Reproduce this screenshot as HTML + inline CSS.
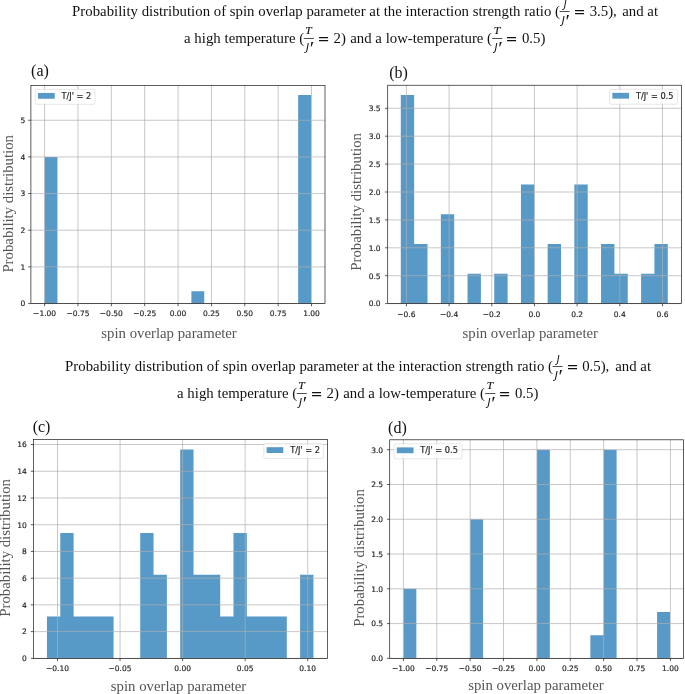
<!DOCTYPE html>
<html lang="en">
<head>
<meta charset="utf-8">
<title>Probability distribution of spin overlap parameter</title>
<style>
html,body{margin:0;padding:0;background:#fff;}
body{width:685px;height:694px;overflow:hidden;}
svg{display:block;}
.tk{font-family:"DejaVu Sans","Liberation Sans",sans-serif;font-size:7.5px;fill:#262626;stroke:#262626;stroke-width:0.18px;}
.lg{font-family:"DejaVu Sans","Liberation Sans",sans-serif;font-size:8.2px;fill:#262626;stroke:#262626;stroke-width:0.2px;}
.al{font-family:"Liberation Serif","Times New Roman",serif;font-size:14.8px;fill:#555555;}
.tg{font-family:"Liberation Serif","Times New Roman",serif;font-size:16px;fill:#111;}
.hd{font-family:"Liberation Serif","Times New Roman",serif;font-size:14.8px;fill:#111;white-space:pre;}
.fr{font-family:"Liberation Serif","Times New Roman",serif;font-style:italic;fill:#111;stroke:#111;stroke-width:0.15px;}
.fp{font-family:"Liberation Serif","Times New Roman",serif;font-style:italic;fill:#111;}
.fj{font-family:"DejaVu Sans","Liberation Sans",sans-serif;font-style:oblique;fill:#111;}
.fe{font-family:"DejaVu Sans","Liberation Sans",sans-serif;fill:#111;}
</style>
</head>
<body>
<svg width="685" height="694" viewBox="0 0 685 694">
<rect width="685" height="694" fill="#fff"/>
<text class="hd" x="72.1" y="15.75" textLength="487.85">Probability distribution of spin overlap parameter at the interaction strength ratio (</text>
<rect x="559.6" y="11.15" width="10" height="0.8" fill="#222"/><text class="fj" font-size="9.9" transform="translate(563.72 7.87) scale(1.0 1.0)">J</text><text class="fj" font-size="10.7" transform="translate(561.86 23.91) scale(1.0 1.0)">J</text><text class="fp" font-size="18" transform="translate(564.21 28.11) scale(1.15 1.0)">′</text>
<text class="fe" font-size="14.45" transform="translate(573.47 16.98) scale(1.0 0.93)">=</text>
<text class="hd" x="589.7" y="15.75">3.5),</text>
<text class="hd" x="622.3" y="15.75">and at</text>
<text class="hd" x="184" y="42.65" textLength="120.25">a high temperature (</text>
<rect x="303.8" y="38.05" width="10" height="0.8" fill="#222"/><text class="fr" font-size="11.15" transform="translate(305.14 34.35) scale(1.04 1.0)">T</text><text class="fj" font-size="10.7" transform="translate(306.06 50.81) scale(1.0 1.0)">J</text><text class="fp" font-size="18" transform="translate(308.41 54.51) scale(1.15 1.0)">′</text>
<text class="fe" font-size="14.45" transform="translate(317.57 44.4) scale(1.0 0.93)">=</text>
<text class="hd" x="333.5" y="42.65">2)</text>
<text class="hd" x="350.3" y="42.65">and a low-temperature (</text>
<rect x="492.3" y="38.05" width="10" height="0.8" fill="#222"/><text class="fr" font-size="11.15" transform="translate(493.64 34.35) scale(1.04 1.0)">T</text><text class="fj" font-size="10.7" transform="translate(494.56 50.81) scale(1.0 1.0)">J</text><text class="fp" font-size="18" transform="translate(496.91 54.51) scale(1.15 1.0)">′</text>
<text class="fe" font-size="14.45" transform="translate(505.57 44.4) scale(1.0 0.93)">=</text>
<text class="hd" x="521.9" y="42.65">0.5)</text>
<text class="hd" x="65.1" y="370.75" textLength="487.85">Probability distribution of spin overlap parameter at the interaction strength ratio (</text>
<rect x="552.6" y="366.15" width="10" height="0.8" fill="#222"/><text class="fj" font-size="9.9" transform="translate(556.72 362.87) scale(1.0 1.0)">J</text><text class="fj" font-size="10.7" transform="translate(554.86 378.91) scale(1.0 1.0)">J</text><text class="fp" font-size="18" transform="translate(557.21 383.11) scale(1.15 1.0)">′</text>
<text class="fe" font-size="14.45" transform="translate(566.47 371.98) scale(1.0 0.93)">=</text>
<text class="hd" x="582.2" y="370.75">0.5),</text>
<text class="hd" x="615.3" y="370.75">and at</text>
<text class="hd" x="177" y="397.65" textLength="120.25">a high temperature (</text>
<rect x="296.8" y="393.05" width="10" height="0.8" fill="#222"/><text class="fr" font-size="11.15" transform="translate(298.14 389.35) scale(1.04 1.0)">T</text><text class="fj" font-size="10.7" transform="translate(299.06 405.81) scale(1.0 1.0)">J</text><text class="fp" font-size="18" transform="translate(301.41 409.51) scale(1.15 1.0)">′</text>
<text class="fe" font-size="14.45" transform="translate(310.57 399.4) scale(1.0 0.93)">=</text>
<text class="hd" x="326.5" y="397.65">2)</text>
<text class="hd" x="343.3" y="397.65">and a low-temperature (</text>
<rect x="485.3" y="393.05" width="10" height="0.8" fill="#222"/><text class="fr" font-size="11.15" transform="translate(486.64 389.35) scale(1.04 1.0)">T</text><text class="fj" font-size="10.7" transform="translate(487.56 405.81) scale(1.0 1.0)">J</text><text class="fp" font-size="18" transform="translate(489.91 409.51) scale(1.15 1.0)">′</text>
<text class="fe" font-size="14.45" transform="translate(498.57 399.4) scale(1.0 0.93)">=</text>
<text class="hd" x="514.9" y="397.65">0.5)</text>
<rect x="30.9" y="85.35" width="294.1" height="218.2" fill="#fff"/>
<path d="M44.6 303.55V156.91H57.45V303.55ZM191.4 303.55V291.33H204.24V303.55ZM298.16 303.55V94.95H311V303.55Z" fill="#5799c7"/>
<path d="M44.6 85.35V303.55M77.96 85.35V303.55M111.33 85.35V303.55M144.69 85.35V303.55M178.05 85.35V303.55M211.41 85.35V303.55M244.78 85.35V303.55M278.14 85.35V303.55M311.5 85.35V303.55M30.9 303.55H325M30.9 266.89H325M30.9 230.23H325M30.9 193.57H325M30.9 156.91H325M30.9 120.25H325" stroke="#b0b0b0" stroke-width="0.7" fill="none"/>
<path d="M44.6 303.55v2.7M77.96 303.55v2.7M111.33 303.55v2.7M144.69 303.55v2.7M178.05 303.55v2.7M211.41 303.55v2.7M244.78 303.55v2.7M278.14 303.55v2.7M311.5 303.55v2.7M30.9 303.55h-2.7M30.9 266.89h-2.7M30.9 230.23h-2.7M30.9 193.57h-2.7M30.9 156.91h-2.7M30.9 120.25h-2.7" stroke="#1a1a1a" stroke-width="0.7" fill="none"/>
<rect x="30.9" y="85.35" width="294.1" height="218.2" fill="none" stroke="#1a1a1a" stroke-width="0.7"/>
<g class="tk" text-anchor="middle">
<text x="44.6" y="316.45">−1.00</text>
<text x="77.96" y="316.45">−0.75</text>
<text x="111.33" y="316.45">−0.50</text>
<text x="144.69" y="316.45">−0.25</text>
<text x="178.05" y="316.45">0.00</text>
<text x="211.41" y="316.45">0.25</text>
<text x="244.78" y="316.45">0.50</text>
<text x="278.14" y="316.45">0.75</text>
<text x="311.5" y="316.45">1.00</text>
</g>
<g class="tk" text-anchor="end">
<text x="25.3" y="306.4">0</text>
<text x="25.3" y="269.74">1</text>
<text x="25.3" y="233.08">2</text>
<text x="25.3" y="196.42">3</text>
<text x="25.3" y="159.76">4</text>
<text x="25.3" y="123.1">5</text>
</g>
<rect x="35.25" y="89.35" width="59.75" height="15" rx="1.6" fill="#fff" fill-opacity="0.8" stroke="#ccc" stroke-opacity="0.8" stroke-width="0.6"/>
<rect x="38" y="92.95" width="16.7" height="5.8" fill="#5799c7"/>
<text class="lg" x="61.55" y="98.75">T/J' = 2</text>
<text class="al" text-anchor="middle" transform="translate(169.05 338.2) scale(1 1.045)">spin overlap parameter</text>
<text class="al" transform="translate(13.1 272.6) rotate(-90) scale(1 1.045)">Probability distribution</text>
<text class="tg" x="31.1" y="76">(a)</text>
<rect x="387.7" y="85.25" width="293.9" height="218.35" fill="#fff"/>
<path d="M400.8 303.6V94.91H414.15V244.08H427.5V303.6ZM440.85 303.6V214.32H454.2V303.6ZM467.55 303.6V273.84H480.9V303.6ZM494.25 303.6V273.84H507.6V303.6ZM520.95 303.6V184.56H534.3V303.6ZM547.65 303.6V244.08H561V303.6ZM574.35 303.6V184.56H587.7V303.6ZM601.05 303.6V244.08H614.4V273.84H627.75V303.6ZM641.1 303.6V273.84H654.45V244.08H667.8V303.6Z" fill="#5799c7"/>
<path d="M406.41 85.25V303.6M449.09 85.25V303.6M491.77 85.25V303.6M534.45 85.25V303.6M577.13 85.25V303.6M619.81 85.25V303.6M662.49 85.25V303.6M387.7 303.6H681.6M387.7 275.7H681.6M387.7 247.8H681.6M387.7 219.9H681.6M387.7 192H681.6M387.7 164.1H681.6M387.7 136.2H681.6M387.7 108.3H681.6" stroke="#b0b0b0" stroke-width="0.7" fill="none"/>
<path d="M406.41 303.6v2.7M449.09 303.6v2.7M491.77 303.6v2.7M534.45 303.6v2.7M577.13 303.6v2.7M619.81 303.6v2.7M662.49 303.6v2.7M387.7 303.6h-2.7M387.7 275.7h-2.7M387.7 247.8h-2.7M387.7 219.9h-2.7M387.7 192h-2.7M387.7 164.1h-2.7M387.7 136.2h-2.7M387.7 108.3h-2.7" stroke="#1a1a1a" stroke-width="0.7" fill="none"/>
<rect x="387.7" y="85.25" width="293.9" height="218.35" fill="none" stroke="#1a1a1a" stroke-width="0.7"/>
<g class="tk" text-anchor="middle">
<text x="406.41" y="316.5">−0.6</text>
<text x="449.09" y="316.5">−0.4</text>
<text x="491.77" y="316.5">−0.2</text>
<text x="534.45" y="316.5">0.0</text>
<text x="577.13" y="316.5">0.2</text>
<text x="619.81" y="316.5">0.4</text>
<text x="662.49" y="316.5">0.6</text>
</g>
<g class="tk" text-anchor="end">
<text x="380.6" y="306.45">0.0</text>
<text x="380.6" y="278.55">0.5</text>
<text x="380.6" y="250.65">1.0</text>
<text x="380.6" y="222.75">1.5</text>
<text x="380.6" y="194.85">2.0</text>
<text x="380.6" y="166.95">2.5</text>
<text x="380.6" y="139.05">3.0</text>
<text x="380.6" y="111.15">3.5</text>
</g>
<rect x="609.6" y="89.25" width="68" height="15" rx="1.6" fill="#fff" fill-opacity="0.8" stroke="#ccc" stroke-opacity="0.8" stroke-width="0.6"/>
<rect x="612.35" y="92.85" width="16.7" height="5.8" fill="#5799c7"/>
<text class="lg" x="635.9" y="98.65">T/J' = 0.5</text>
<text class="al" text-anchor="middle" transform="translate(530.25 338) scale(1 1.045)">spin overlap parameter</text>
<text class="al" transform="translate(360.6 270.7) rotate(-90) scale(1 1.045)">Probability distribution</text>
<text class="tg" x="389.2" y="78">(b)</text>
<rect x="33.5" y="439.6" width="294.1" height="218.75" fill="#fff"/>
<path d="M46.95 658.35V616.58H60.28V533.05H73.6V616.58H86.92V616.58H100.25V616.58H113.58V658.35ZM140.22 658.35V533.05H153.55V574.82H166.88V658.35ZM180.2 658.35V449.52H193.52V574.82H206.85V574.82H220.18V616.58H233.5V533.05H246.82V616.58H260.15V616.58H273.47V616.58H286.8V658.35ZM300.12 658.35V574.82H313.45V658.35Z" fill="#5799c7"/>
<path d="M57.5 439.6V658.35M120.05 439.6V658.35M182.6 439.6V658.35M245.15 439.6V658.35M307.7 439.6V658.35M33.5 658.35H327.6M33.5 631.62H327.6M33.5 604.89H327.6M33.5 578.16H327.6M33.5 551.43H327.6M33.5 524.7H327.6M33.5 497.97H327.6M33.5 471.24H327.6M33.5 444.51H327.6" stroke="#b0b0b0" stroke-width="0.7" fill="none"/>
<path d="M57.5 658.35v2.7M120.05 658.35v2.7M182.6 658.35v2.7M245.15 658.35v2.7M307.7 658.35v2.7M33.5 658.35h-2.7M33.5 631.62h-2.7M33.5 604.89h-2.7M33.5 578.16h-2.7M33.5 551.43h-2.7M33.5 524.7h-2.7M33.5 497.97h-2.7M33.5 471.24h-2.7M33.5 444.51h-2.7" stroke="#1a1a1a" stroke-width="0.7" fill="none"/>
<rect x="33.5" y="439.6" width="294.1" height="218.75" fill="none" stroke="#1a1a1a" stroke-width="0.7"/>
<g class="tk" text-anchor="middle">
<text x="57.5" y="671.25">−0.10</text>
<text x="120.05" y="671.25">−0.05</text>
<text x="182.6" y="671.25">0.00</text>
<text x="245.15" y="671.25">0.05</text>
<text x="307.7" y="671.25">0.10</text>
</g>
<g class="tk" text-anchor="end">
<text x="26.9" y="661.2">0</text>
<text x="26.9" y="634.47">2</text>
<text x="26.9" y="607.74">4</text>
<text x="26.9" y="581.01">6</text>
<text x="26.9" y="554.28">8</text>
<text x="26.9" y="527.55">10</text>
<text x="26.9" y="500.82">12</text>
<text x="26.9" y="474.09">14</text>
<text x="26.9" y="447.36">16</text>
</g>
<rect x="263.85" y="443.6" width="59.75" height="15" rx="1.6" fill="#fff" fill-opacity="0.8" stroke="#ccc" stroke-opacity="0.8" stroke-width="0.6"/>
<rect x="266.6" y="447.2" width="16.7" height="5.8" fill="#5799c7"/>
<text class="lg" x="290.15" y="453">T/J' = 2</text>
<text class="al" text-anchor="middle" transform="translate(178.55 690.5) scale(1 1.045)">spin overlap parameter</text>
<text class="al" transform="translate(10.4 616.7) rotate(-90) scale(1 1.045)">Probability distribution</text>
<text class="tg" x="32.7" y="432.3">(c)</text>
<rect x="389.7" y="439.8" width="293.9" height="218.55" fill="#fff"/>
<path d="M403.45 658.35V588.8H416.35V658.35ZM470.2 658.35V519.25H483.1V658.35ZM536.95 658.35V449.7H549.85V658.35ZM590.35 658.35V635.17H603.7V449.7H616.6V658.35ZM657.1 658.35V611.98H670V658.35Z" fill="#5799c7"/>
<path d="M403.4 439.8V658.35M436.77 439.8V658.35M470.15 439.8V658.35M503.52 439.8V658.35M536.9 439.8V658.35M570.27 439.8V658.35M603.65 439.8V658.35M637.02 439.8V658.35M670.4 439.8V658.35M389.7 658.35H683.6M389.7 623.58H683.6M389.7 588.8H683.6M389.7 554.03H683.6M389.7 519.25H683.6M389.7 484.48H683.6M389.7 449.7H683.6" stroke="#b0b0b0" stroke-width="0.7" fill="none"/>
<path d="M403.4 658.35v2.7M436.77 658.35v2.7M470.15 658.35v2.7M503.52 658.35v2.7M536.9 658.35v2.7M570.27 658.35v2.7M603.65 658.35v2.7M637.02 658.35v2.7M670.4 658.35v2.7M389.7 658.35h-2.7M389.7 623.58h-2.7M389.7 588.8h-2.7M389.7 554.03h-2.7M389.7 519.25h-2.7M389.7 484.48h-2.7M389.7 449.7h-2.7" stroke="#1a1a1a" stroke-width="0.7" fill="none"/>
<rect x="389.7" y="439.8" width="293.9" height="218.55" fill="none" stroke="#1a1a1a" stroke-width="0.7"/>
<g class="tk" text-anchor="middle">
<text x="403.4" y="671.25">−1.00</text>
<text x="436.77" y="671.25">−0.75</text>
<text x="470.15" y="671.25">−0.50</text>
<text x="503.52" y="671.25">−0.25</text>
<text x="536.9" y="671.25">0.00</text>
<text x="570.27" y="671.25">0.25</text>
<text x="603.65" y="671.25">0.50</text>
<text x="637.02" y="671.25">0.75</text>
<text x="670.4" y="671.25">1.00</text>
</g>
<g class="tk" text-anchor="end">
<text x="383.1" y="661.2">0.0</text>
<text x="383.1" y="626.43">0.5</text>
<text x="383.1" y="591.65">1.0</text>
<text x="383.1" y="556.88">1.5</text>
<text x="383.1" y="522.1">2.0</text>
<text x="383.1" y="487.33">2.5</text>
<text x="383.1" y="452.55">3.0</text>
</g>
<rect x="394.05" y="443.8" width="68" height="15" rx="1.6" fill="#fff" fill-opacity="0.8" stroke="#ccc" stroke-opacity="0.8" stroke-width="0.6"/>
<rect x="396.8" y="447.4" width="16.7" height="5.8" fill="#5799c7"/>
<text class="lg" x="420.35" y="453.2">T/J' = 0.5</text>
<text class="al" text-anchor="middle" transform="translate(535.9 689.6) scale(1 1.045)">spin overlap parameter</text>
<text class="al" transform="translate(363.6 626.8) rotate(-90) scale(1 1.045)">Probability distribution</text>
<text class="tg" x="388.1" y="433">(d)</text>
</svg>
</body>
</html>
